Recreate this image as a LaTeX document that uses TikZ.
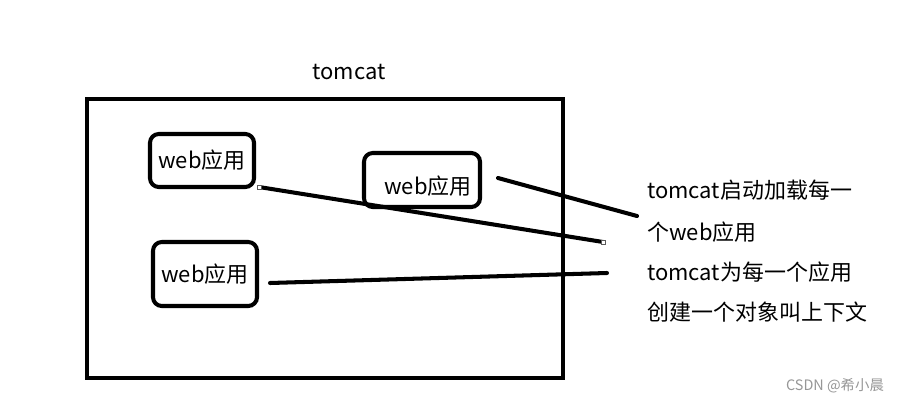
\documentclass[tikz,border=0pt]{standalone}
\usepackage{fontspec}
\setmainfont{Noto Sans CJK SC}
\usepackage{tikz}
\usetikzlibrary{positioning,calc}
\definecolor{markgray}{RGB}{90,90,90}
\definecolor{wmgray}{RGB}{150,150,150}

\begin{document}
\begin{tikzpicture}[x=0.02cm, y=-0.02cm,
      container/.style={rectangle, draw=black, line width=2.3pt},
      appbox/.style={rectangle, draw=black, line width=2.3pt, rounded corners=5pt,
                     inner sep=0pt, font=\fontsize{12.5}{14}\selectfont},
      link/.style={line width=2.3pt, line cap=round},
      handle/.style={rectangle, draw=markgray, fill=white, line width=0.4pt,
                     inner sep=0pt, minimum size=2.4pt},
      note/.style={anchor=west, font=\fontsize{12.5}{14}\selectfont, inner sep=0pt},
    ]
      \useasboundingbox (0,0) rectangle (901,402);
      % tomcat container
      \node[container, minimum width=476*0.02cm, minimum height=279*0.02cm,
            anchor=north west] (tomcat) at (85,97) {};
      \node[font=\fontsize{12.5}{14}\selectfont] (title) at (349,72) {tomcat};
      % web apps
      \node[appbox, minimum width=104*0.02cm, minimum height=53*0.02cm] (app1)
            at (202,160.5) {web应用};
      \node[appbox, minimum width=116*0.02cm, minimum height=54*0.02cm] (app2)
            at (422,180) {};
      \node[font=\fontsize{12.5}{14}\selectfont] (app2txt) at (428,186) {web应用};
      \node[appbox, minimum width=104*0.02cm, minimum height=64*0.02cm] (app3)
            at (205,274) {web应用};
      % explanation
      \node[note] (n1) at (647,190) {tomcat启动加载每一};
      \node[note] (n2) at (647,232) {个web应用};
      \node[note] (n3) at (647,272) {tomcat为每一个应用};
      \node[note] (n4) at (647,312) {创建一个对象叫上下文};
      % connector ends
      \coordinate (a1) at (259,187);
      \coordinate (b1) at (603,242);
      \coordinate (a2) at (498,178);
      \coordinate (b2) at (637,216);
      \coordinate (a3) at (270,283);
      \coordinate (b3) at (607,273);
      \draw[link] (a1) -- (b1);
      \draw[link] (a2) -- (b2);
      \draw[link] (a3) -- (b3);
      \node[handle] at (a1) {};
      \node[handle] at (b1) {};
      % watermark
      \node[font=\fontsize{8.2}{9}\selectfont, text=wmgray] (wm) at (835,386)
            {CSDN @希小晨};
\end{tikzpicture}
\end{document}
